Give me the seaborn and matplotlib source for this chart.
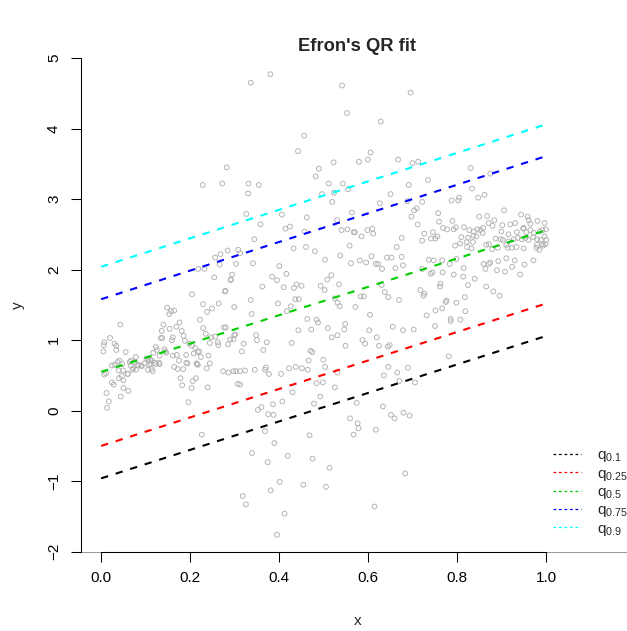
import numpy as np
import pandas as pd
import matplotlib
matplotlib.use("Agg")
import matplotlib.pyplot as plt
import seaborn as sns
from matplotlib.lines import Line2D

# ---------------- data ----------------
# left, tight part (x < 0.13)
left_x = [0.007,0.006,0.005,0.020,0.030,0.034,0.034,0.043,0.011,0.007,
          0.024,0.030,0.037,0.041,0.047,0.055,0.039,0.049,0.046,0.050,
          0.040,0.024,0.028,0.012,0.017,0.013,0.050,0.061,0.044,0.060,
          0.102,0.106,0.110,0.114,0.120,0.123,0.130,0.131,0.112,0.108,
          0.097,0.090,0.091,0.084,0.081,0.075,0.078,0.072,0.078,0.066,
          0.064,0.067,0.070,0.059,0.105,0.116,0.113]
left_y = [0.97,0.93,0.84,1.03,0.95,0.92,0.86,1.22,0.53,0.51,
          0.64,0.65,0.69,0.71,0.66,0.83,0.57,0.57,0.49,0.43,
          0.46,0.40,0.37,0.25,0.13,0.04,0.32,0.28,0.20,0.52,
          0.74,0.71,0.72,0.71,0.68,0.66,0.68,0.66,0.66,0.65,
          0.67,0.64,0.63,0.64,0.65,0.69,0.76,0.60,0.58,0.64,
          0.69,0.71,0.58,0.52,0.58,0.56,0.59]

# 0.12 < x < 0.33, central band
midleft_x = [0.204,0.278,0.291,0.264,0.249,0.238,0.229,0.299,0.148,0.157,
             0.164,0.153,0.222,0.140,0.136,0.154,0.176,0.169,0.181,0.161,
             0.159,0.134,0.137,0.185,0.188,0.229,0.235,0.276,0.280,0.290,
             0.299,0.297,0.301,0.247,0.256,0.244,0.262,0.263,0.285,0.320,
             0.316,0.198,0.204,0.211,0.217,0.208,0.220,0.224,0.191,0.161,
             0.170,0.175,0.191,0.194,0.215,0.214,0.217,0.244,0.237,0.164,
             0.172,0.184,0.123,0.125,0.117,0.131,0.142,0.144,0.146,0.178,
             0.182,0.203,0.206,0.213,0.239,0.196,0.274,0.286,0.297,0.303,
             0.312,0.323,0.307,0.312,0.241,0.226]
midleft_y = [1.65,1.69,1.85,1.52,1.45,1.40,1.51,1.47,1.46,1.41,
             1.42,1.37,1.29,1.22,1.13,1.16,1.25,1.19,1.13,1.04,
             1.00,1.03,1.03,1.06,0.99,1.17,1.09,1.18,1.18,1.01,
             1.07,1.01,1.08,1.04,1.05,0.96,0.97,0.93,0.94,0.95,
             0.84,0.95,0.92,0.89,0.83,0.81,0.84,0.76,0.79,0.78,
             0.79,0.71,0.68,0.67,0.66,0.67,0.65,0.67,0.60,0.62,
             0.59,0.59,0.90,0.86,0.82,0.78,0.87,0.84,0.82,0.46,
             0.36,0.32,0.42,0.46,0.33,0.12,0.56,0.54,0.56,0.56,
             0.56,0.57,0.38,0.37,0.78,-0.34]

# upper left (x 0.2 - 0.33, y > 1.7)
upleft_x = [0.282,0.228,0.272,0.331,0.330,0.326,0.284,0.268,0.256,0.308,
            0.312,0.218,0.232,0.266,0.303,0.254,0.291,0.294,0.279]
upleft_y = [3.45,3.20,3.22,3.22,3.08,2.79,2.27,2.22,2.17,2.28,
            2.23,2.01,2.01,2.07,2.08,1.89,1.86,1.93,1.70]

# upper middle (x 0.33 - 0.72, y > 2.4)
upmid_x = [0.380,0.336,0.541,0.695,0.552,0.628,0.456,0.442,0.605,0.599,
           0.579,0.522,0.667,0.699,0.712,0.489,0.482,0.511,0.543,0.555,
           0.523,0.496,0.519,0.354,0.691,0.650,0.626,0.688,0.709,0.703,
           0.697,0.711,0.406,0.462,0.358,0.424,0.414,0.457,0.530,0.563,
           0.540,0.553,0.567,0.570,0.598,0.609,0.611,0.585,0.675,0.344]
upmid_y = [4.77,4.65,4.61,4.51,4.22,4.10,3.90,3.68,3.66,3.56,
           3.53,3.52,3.56,3.51,3.53,3.43,3.32,3.22,3.22,3.14,
           3.09,3.07,2.96,3.20,3.20,3.07,2.94,2.97,2.87,2.84,
           2.75,2.64,2.78,2.74,2.64,2.61,2.58,2.54,2.70,2.81,
           2.56,2.57,2.53,2.53,2.56,2.58,2.51,2.47,2.45,2.43]

# centre (x 0.33 - 0.68, y 0.3 - 2.4)
centre_x = [0.432,0.460,0.480,0.341,0.400,0.416,0.384,0.395,0.362,0.410,
            0.433,0.439,0.450,0.493,0.502,0.508,0.517,0.534,0.503,0.537,
            0.558,0.561,0.581,0.595,0.607,0.617,0.622,0.631,0.642,0.652,
            0.661,0.664,0.675,0.678,0.336,0.397,0.436,0.444,0.426,0.417,
            0.338,0.525,0.531,0.536,0.583,0.590,0.571,0.637,0.645,0.630,
            0.669,0.604,0.463,0.484,0.487,0.472,0.443,0.509,0.548,0.546,
            0.531,0.518,0.602,0.619,0.587,0.593,0.624,0.644,0.648,0.655,
            0.678,0.549,0.348,0.350,0.372,0.364,0.428,0.470,0.474,0.466,
            0.499,0.345,0.370,0.368,0.377,0.404,0.422,0.437,0.451,0.464,
            0.503,0.531,0.484,0.498,0.525,0.635,0.645,0.665,0.670,0.702,
            0.689,0.705]
centre_y = [2.30,2.32,2.26,2.09,2.05,1.94,1.90,1.85,1.76,1.75,
            1.74,1.79,1.77,1.77,1.71,1.86,1.92,1.79,2.14,2.20,
            2.34,2.09,2.13,2.10,2.19,2.08,2.08,2.01,2.17,2.17,
            2.02,2.32,2.18,2.06,1.57,1.52,1.58,1.58,1.48,1.41,
            1.37,1.59,1.53,1.48,1.62,1.62,1.47,1.68,1.61,1.78,
            1.57,1.36,1.30,1.29,1.25,1.15,1.14,1.17,1.23,1.15,
            1.07,1.04,1.14,1.04,1.00,0.95,0.92,0.91,0.93,1.19,
            1.14,0.92,1.07,1.00,0.97,0.86,0.96,0.85,0.83,0.71,
            0.72,0.58,0.61,0.58,0.52,0.52,0.60,0.62,0.60,0.58,
            0.62,0.54,0.39,0.40,0.33,0.50,0.62,0.54,0.42,1.15,
            0.61,0.40]

# lower middle (y < 0.3)
low_x = [0.430,0.360,0.352,0.386,0.407,0.375,0.387,0.478,0.492,0.574,
         0.633,0.559,0.576,0.578,0.567,0.617,0.651,0.659,0.679,0.693,
         0.368,0.468,0.389,0.339,0.419,0.374,0.475,0.513,0.683,0.401,
         0.381,0.454,0.505,0.325,0.412,0.614,0.395,0.318]
low_y = [0.26,0.05,0.01,0.09,0.13,-0.05,-0.06,0.10,0.20,0.11,
         0.06,-0.11,-0.18,-0.25,-0.34,-0.27,-0.06,-0.11,-0.03,-0.07,
         -0.29,-0.35,-0.46,-0.60,-0.64,-0.73,-0.68,-0.81,-0.89,-1.01,
         -1.13,-1.05,-1.08,-1.33,-1.46,-1.36,-1.76,-1.21]

# right part (x > 0.71)
right_x = [0.830,0.874,0.734,0.833,0.721,0.787,0.802,0.804,0.847,0.861,
           0.757,0.905,0.759,0.789,0.849,0.867,0.883,0.870,0.879,0.943,
           0.958,0.960,0.980,0.901,0.919,0.930,0.949,0.964,0.996,0.768,
           0.777,0.792,0.797,0.815,0.726,0.745,0.755,0.751,0.741,0.721,
           0.827,0.837,0.845,0.852,0.858,0.857,0.899,0.915,0.934,0.948,
           0.955,0.964,0.972,0.985,0.991,0.999,0.809,0.824,0.836,0.843,
           0.821,0.835,0.795,0.806,0.822,0.832,0.886,0.897,0.902,0.915,
           0.927,0.936,0.945,0.953,0.960,0.971,0.979,0.988,0.996,1.000,
           0.990,0.910,0.913,0.922,0.933,0.949,0.979,0.978,0.984,0.993,
           0.998,0.891,0.878,0.871,0.865,0.736,0.747,0.721,0.766,0.783,
           0.798,0.814,0.792,0.767,0.740,0.744,0.859,0.871,0.874,0.863,
           0.892,0.889,0.910,0.929,0.923,0.907,0.951,0.941,0.971,0.839,
           0.813,0.824,0.865,0.881,0.895,0.817,0.762,0.761,0.717,0.726,
           0.724,0.774,0.776,0.798,0.751,0.766,0.731,0.818,0.785,0.807,
           0.750,0.785,0.781]
right_y = [3.44,3.36,3.27,3.15,2.96,2.98,2.98,3.02,3.02,3.06,
           2.80,2.84,2.68,2.69,2.75,2.76,2.70,2.66,2.62,2.78,
           2.75,2.70,2.69,2.63,2.64,2.66,2.59,2.65,2.66,2.59,
           2.57,2.57,2.60,2.60,2.51,2.53,2.47,2.44,2.44,2.41,
           2.56,2.54,2.57,2.56,2.59,2.52,2.54,2.50,2.53,2.58,
           2.53,2.56,2.52,2.54,2.56,2.57,2.46,2.45,2.48,2.47,
           2.39,2.39,2.34,2.37,2.32,2.30,2.44,2.43,2.42,2.40,
           2.43,2.45,2.43,2.45,2.42,2.46,2.43,2.42,2.47,2.42,
           2.36,2.35,2.31,2.31,2.32,2.30,2.35,2.31,2.28,2.34,
           2.36,2.31,2.29,2.36,2.35,2.14,2.13,2.01,2.13,2.08,
           2.15,2.02,1.93,1.96,1.94,1.96,2.08,2.08,2.10,2.01,
           2.12,1.99,2.16,2.13,2.04,1.97,2.07,1.93,2.13,1.87,
           1.90,1.78,1.76,1.69,1.63,1.61,1.80,1.76,1.71,1.66,
           1.63,1.54,1.56,1.53,1.42,1.45,1.35,1.41,1.30,1.29,
           1.20,1.27,0.77]

# quantile regression lines
quantile_labels = ["0.1", "0.25", "0.5", "0.75", "0.9"]
intercepts = [-0.96, -0.50, 0.55, 1.58, 2.04]
slopes = [2.02, 2.02, 2.01, 2.03, 2.02]
line_colors = ["#000000", "#FF0000", "#00CD00", "#0000FF", "#00FFFF"]

x_ticks = [0.0, 0.2, 0.4, 0.6, 0.8, 1.0]
x_tick_labels = ["0.0", "0.2", "0.4", "0.6", "0.8", "1.0"]
y_ticks = [-2, -1, 0, 1, 2, 3, 4, 5]
y_tick_labels = ["\u22122", "\u22121", "0", "1", "2", "3", "4", "5"]

# ---------------- style ----------------
sns.set_theme(style="white")
plt.rcParams["font.family"] = ["Liberation Sans", "DejaVu Sans"]
plt.rcParams["mathtext.fontset"] = "custom"
plt.rcParams["mathtext.rm"] = "Liberation Sans"
plt.rcParams["mathtext.it"] = "Liberation Sans"
plt.rcParams["mathtext.default"] = "regular"

pts = pd.DataFrame({
    "x": left_x + midleft_x + upleft_x + upmid_x + centre_x + low_x + right_x,
    "y": left_y + midleft_y + upleft_y + upmid_y + centre_y + low_y + right_y,
})

W, H = 627, 631
fig = plt.figure(figsize=(W / 100, H / 100), dpi=100)
ax_left, ax_right, ax_top, ax_bottom = 80.7, 633.6, 58.0, 551.7
ax = fig.add_axes([ax_left / W, 1 - ax_bottom / H,
                   (ax_right - ax_left) / W, (ax_bottom - ax_top) / H])

sns.scatterplot(data=pts, x="x", y="y", ax=ax, marker="o", s=12,
                facecolors="none", edgecolor="#b0b0b0", linewidth=0.65,
                legend=False, zorder=2)

for lab, a, b, c in zip(quantile_labels, intercepts, slopes, line_colors):
    xs = [0.0, 1.0]
    ys = [a + b * xv for xv in xs]
    sns.lineplot(x=xs, y=ys, ax=ax, color=c, linewidth=1.5,
                 linestyle=(0, (3.5, 3.8)), legend=False, zorder=3)

ax.axhline(-2, color="#9a9a9a", linewidth=0.75, zorder=1, clip_on=False)

ax.set_xlim(-0.046, 1.196)
ax.set_ylim(-2, 5)
ax.set_xticks(x_ticks)
ax.set_xticklabels(x_tick_labels, fontsize=11)
ax.set_yticks(y_ticks)
ax.set_yticklabels(y_tick_labels, fontsize=11, rotation=90, va="center")

for s in ["top", "right"]:
    ax.spines[s].set_visible(False)
ax.spines["left"].set_bounds(-2, 5)
ax.spines["bottom"].set_bounds(0, 1)
for s in ["left", "bottom"]:
    ax.spines[s].set_color("black")
    ax.spines[s].set_linewidth(0.75)
ax.tick_params(axis="both", direction="out", length=7.2, width=0.75,
               color="black", labelcolor="black", pad=7)
ax.tick_params(axis="x", bottom=True)
ax.tick_params(axis="y", left=True)

ax.set_xlabel("x", fontsize=11)
ax.set_ylabel("y", fontsize=11)
ax.xaxis.set_label_coords(0.5, -0.126)
ax.yaxis.set_label_coords(-0.100, 0.5)
ax.set_title("Efron's QR fit", fontsize=13.2, fontweight="bold", pad=4.7)

handles = [Line2D([], [], color=c, linewidth=0.9, linestyle=(0, (2.2, 2.2)))
           for c in line_colors]
labels = ["$q_{%s}$" % q for q in quantile_labels]
fig.legend(handles, labels, loc="upper left",
           bbox_to_anchor=(553 / W, 1 - 448.5 / H),
           frameon=False, fontsize=11, handlelength=1.83, handletextpad=1.05,
           labelspacing=0.15, borderpad=0, borderaxespad=0)

fig.savefig("out.png", dpi=100)
